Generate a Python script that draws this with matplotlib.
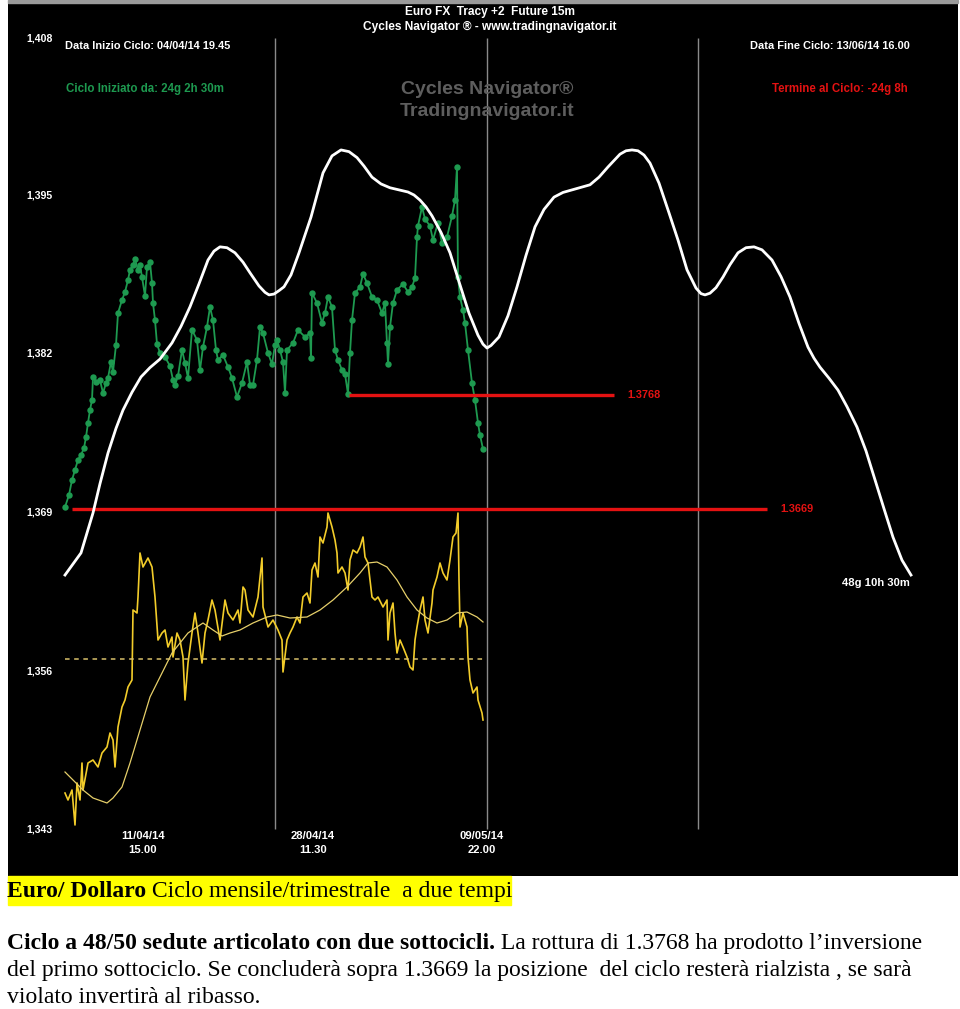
import matplotlib
matplotlib.use("Agg")
import matplotlib.pyplot as plt
from matplotlib.patches import Rectangle

# ── Data ───────────────────────────────────────────────────────────────────
# price series (green), x = bar position along the cycle panel
price_t = [65, 69, 72, 75, 78, 81, 84, 86, 88, 90, 92, 93, 96, 100, 103, 106,
           108, 111, 113, 116, 118, 122, 125, 128, 130, 133, 135, 138, 140,
           142, 145, 147, 150, 152, 153, 155, 157, 160, 165, 170, 173, 175,
           178, 182, 185, 188, 192, 197, 200, 203, 207, 210, 213, 216, 218,
           223, 228, 232, 237, 242, 247, 250, 253, 257, 260, 263, 268, 272,
           275, 277, 280, 283, 285, 287, 293, 298, 305, 310, 311, 312, 317,
           322, 325, 328, 332, 335, 338, 342, 345, 348, 350, 352, 355, 360,
           363, 367, 372, 377, 382, 385, 387, 388, 390, 393, 397, 403, 408,
           412, 415, 417, 418, 422, 425, 430, 433, 438, 442, 447, 452, 455,
           457, 458, 460, 463, 465, 468, 472, 475, 478, 480, 483]
price_v = [1.36707, 1.36812, 1.36942, 1.37029, 1.37116, 1.37159, 1.37220,
           1.37315, 1.37437, 1.37550, 1.37637, 1.37836, 1.37793, 1.37810,
           1.37697, 1.37784, 1.37828, 1.37967, 1.37880, 1.38114, 1.38392,
           1.38505, 1.38574, 1.38679, 1.38766, 1.38809, 1.38861, 1.38766,
           1.38809, 1.38705, 1.38540, 1.38792, 1.38835, 1.38653, 1.38479,
           1.38331, 1.38123, 1.38045, 1.38010, 1.37932, 1.37810, 1.37767,
           1.37845, 1.38071, 1.37958, 1.37828, 1.38245, 1.38158, 1.37897,
           1.38097, 1.38271, 1.38444, 1.38331, 1.38071, 1.37984, 1.38027,
           1.37923, 1.37828, 1.37663, 1.37784, 1.37967, 1.37767, 1.37767,
           1.37984, 1.38271, 1.38218, 1.38045, 1.37949, 1.38114, 1.38158,
           1.38071, 1.37967, 1.37697, 1.38071, 1.38132, 1.38245, 1.38184,
           1.38218, 1.37999, 1.38566, 1.38479, 1.38305, 1.38392, 1.38531,
           1.38444, 1.38071, 1.37984, 1.37897, 1.37862, 1.37689, 1.38045,
           1.38331, 1.38566, 1.38618, 1.38731, 1.38653, 1.38531, 1.38505,
           1.38392, 1.38479, 1.38132, 1.37949, 1.38271, 1.38479, 1.38592,
           1.38644, 1.38574, 1.38618, 1.38696, 1.39052, 1.39148, 1.39313,
           1.39208, 1.39148, 1.39026, 1.39174, 1.39000, 1.39052, 1.39234,
           1.39373, 1.39660, 1.38705, 1.38531, 1.38418, 1.38305, 1.38071,
           1.37784, 1.37637, 1.37437, 1.37333, 1.37211]

# oscillator (yellow) and its moving average
osc_t = [65, 68, 72, 75, 77, 80, 82, 83, 88, 93, 98, 102, 107, 110, 113, 115,
         118, 122, 125, 128, 132, 133, 137, 138, 140, 143, 148, 152, 155, 158,
         162, 165, 168, 172, 173, 177, 180, 183, 185, 188, 192, 195, 198, 202,
         205, 208, 212, 215, 220, 225, 228, 233, 238, 240, 243, 245, 248, 253,
         258, 262, 263, 268, 273, 278, 282, 283, 287, 290, 293, 297, 300, 303,
         307, 310, 312, 315, 318, 320, 323, 327, 328, 332, 335, 337, 338, 342,
         345, 348, 350, 353, 357, 360, 363, 365, 368, 370, 372, 375, 378, 383,
         387, 388, 390, 393, 395, 397, 400, 403, 407, 410, 413, 415, 417, 420,
         423, 425, 428, 432, 433, 437, 440, 443, 447, 450, 453, 456, 458, 459,
         460, 463, 467, 468, 470, 473, 477, 478, 482, 483]
osc_v = [-67, -70.5, -65.5, -83, -62, -70.5, -52, -65.5, -52, -50.5, -54, -47,
         -44, -37, -40.5, -54, -34, -24, -20.5, -14, -10.5, 24.5, 23, 31, 53,
         46, 50.5, 46, 31, 9.5, 13, 14.5, 6, 11, 1, 13, 9.5, 1, -20.5, -2, 13,
         23, 13, -2, 13, 19.5, 29.5, 24.5, 9.5, 29.5, 23, 19.5, 24.5, 18, 36,
         34.5, 24.5, 21, 31, 50.5, 26, 16, 19.5, 14.5, 9.5, -6.5, 9.5, 13, 16,
         21, 18, 31, 33, 28, 44.5, 48, 41, 61, 58, 66, 73, 66, 59.5, 53, 43, 46,
         43, 34.5, 49.5, 54.5, 53, 56, 61, 51, 48, 39.5, 31, 29.5, 31, 26,
         29.5, 9.5, 23, 28, 13, 3, 9.5, 6, 1, -4, -5.5, 9.5, 16, 24.5, 31,
         19.5, 13, 28, 34.5, 41, 48, 43, 39.5, 49.5, 61, 63, 73, 39.5, 16, 23,
         16, 1, -10.5, -17, -14, -20.5, -27, -30.5]
ma_t = [65, 73, 83, 93, 107, 113, 122, 130, 140, 150, 157, 165, 172, 180, 188,
        197, 203, 213, 222, 230, 240, 253, 267, 277, 290, 307, 320, 333, 347,
        360, 368, 377, 387, 397, 407, 417, 427, 437, 447, 457, 467, 477, 483]
ma_v = [-56.5, -60.5, -65.5, -69.5, -72, -69.5, -64, -52, -35.5, -19, -12, -4,
        3, 8, 13, 16, 18, 14.5, 11.5, 13, 14.5, 18, 21, 22, 20.5, 21, 24.5,
        29.5, 36, 43, 48, 48.5, 46, 39.5, 31, 24.5, 20.5, 18, 19.5, 23, 23.5,
        21, 18.5]
osc_mid = 0.0

# projected cycle (white), 0 = cycle low, 100 = highest top
cyc_t = [65, 81, 93, 100, 108, 116, 123, 132, 141, 150, 160, 172, 181, 190,
         199, 208, 214, 220, 227, 235, 243, 250, 259, 265, 269, 274, 279, 284,
         291, 299, 311, 323, 332, 341, 349, 357, 364, 372, 381, 390, 399, 408,
         414, 420, 426, 432, 441, 450, 459, 469, 478, 483, 487, 491, 495, 499,
         508, 517, 526, 535, 544, 554, 563, 572, 581, 590, 599, 608, 620, 626,
         632, 638, 644, 650, 659, 669, 678, 687, 696, 701, 705, 710, 716, 723,
         730, 738, 746, 754, 762, 772, 781, 790, 799, 808, 814, 820, 829, 838,
         847, 857, 866, 875, 884, 893, 902, 911]
cyc_v = [0, 5.2, 14.6, 21.5, 28.7, 34.5, 38.8, 43.0, 46.6, 48.8, 50.8, 54.6,
         58.5, 63.1, 68.5, 74.1, 76.2, 77.2, 77.0, 75.8, 73.6, 71.1, 68.0, 66.5,
         65.9, 66.1, 66.9, 67.8, 70.6, 75.8, 84.2, 94.6, 98.6, 100, 99.6, 98.2,
         96.2, 93.6, 92.0, 91.1, 90.6, 90.1, 89.4, 88.2, 86.6, 84.5, 80.6, 75.8,
         69.0, 61.6, 56.4, 54.3, 53.4, 54.0, 55.0, 56.0, 61.0, 67.8, 75.2, 81.9,
         86.0, 88.9, 90.0, 90.6, 91.2, 91.8, 93.6, 96.0, 99.0, 99.8, 100, 99.8,
         98.8, 96.9, 92.2, 85.2, 78.8, 71.8, 67.5, 66.2, 65.9, 66.3, 67.6, 70.1,
         73.0, 75.8, 77.0, 77.2, 76.5, 74.1, 70.2, 65.4, 59.2, 53.6, 51.0, 48.9,
         46.3, 43.5, 39.6, 34.8, 29.2, 22.4, 15.6, 8.9, 3.5, 0]

level_vals = [1.3768, 1.3669]
level_from = [349, 72]
level_to = [614, 767]
level_labels = ["1.3768", "1.3669"]

ytick_vals = [1.4078, 1.3941, 1.3804, 1.3666, 1.3528, 1.3391]
ytick_labels = ["1,408", "1,395", "1,382", "1,369", "1,356", "1,343"]

vline_t = [275, 487, 698]
date_t = [143, 313, 482]
date_labels = ["11/04/14\n15.00", "28/04/14\n11.30", "09/05/14\n22.00"]

# ── Figure / panel ─────────────────────────────────────────────────────────
W, H = 960, 1009
fig = plt.figure(figsize=(W / 100, H / 100), dpi=100)
fig.patch.set_facecolor("white")
plt.rcParams["font.family"] = ["Liberation Sans", "DejaVu Sans"]

PX0, PX1, PY0, PY1 = 8, 958, 2, 876        # black panel in pixels
rect = [PX0 / W, 1 - PY1 / H, (PX1 - PX0) / W, (PY1 - PY0) / H]

ax = fig.add_axes(rect)
ax.set_facecolor("black")
ax.set_xlim(PX0, PX1)
ax.set_ylim(1.335030, 1.410928)
ax.set_xticks([]); ax.set_yticks([])
for s in ax.spines.values():
    s.set_visible(False)

ax_osc = fig.add_axes(rect, sharex=ax)
ax_osc.set_ylim(-108.5, 328.5)
ax_osc.axis("off"); ax_osc.patch.set_alpha(0)

ax_cyc = fig.add_axes(rect, sharex=ax)
ax_cyc.set_ylim(-70.8, 134.8)
ax_cyc.axis("off"); ax_cyc.patch.set_alpha(0)


def fx(px):
    return px / W


def fy(py):
    return 1 - py / H


# thin grey strip along the very top
fig.patches.append(Rectangle((PX0 / W, 1 - 2.5 / H), (PX1 - PX0) / W, 2.5 / H,
                             transform=fig.transFigure, color="#9a9a9a",
                             zorder=0))

# vertical separators
for t in vline_t:
    ax.vlines(t, ytick_vals[-1], ytick_vals[0], color="#8a8a8a", lw=1,
              zorder=1)

# watermark
fig.text(fx(487), fy(89), "Cycles Navigator®", color="#5e5e5e",
         fontsize=14, fontweight="bold", ha="center", va="center")
fig.text(fx(487), fy(111), "Tradingnavigator.it", color="#5e5e5e",
         fontsize=14, fontweight="bold", ha="center", va="center")

# cycle projection
ax_cyc.plot(cyc_t, cyc_v, color="white", lw=2, zorder=3,
            solid_joinstyle="round")

# oscillator
ax_osc.plot(osc_t, osc_v, color="#f2cc2a", lw=1.2, zorder=2)
ax_osc.plot(ma_t, ma_v, color="#e6cf6a", lw=0.9, zorder=2)
ax_osc.hlines(osc_mid, osc_t[0], osc_t[-1], color="#d9c06a", lw=1.1,
              linestyles=(0, (3, 3)), zorder=2)

# price
ax.plot(price_t, price_v, color="#1e9a50", lw=1.3, marker="o", ms=4.6,
        mew=0, zorder=4)

# levels
for v, a, b, lab in zip(level_vals, level_from, level_to, level_labels):
    ax.hlines(v, a, b, color="#e41212", lw=2.4, zorder=5)
    ax.text(b + 13, v, lab, color="#e41212", fontsize=7.8, fontweight="bold",
            ha="left", va="center", zorder=5)

# price labels
for v, lab in zip(ytick_vals, ytick_labels):
    ax.text(26, v, lab, color="white", fontsize=7.6, fontweight="bold",
            ha="left", va="center")

# date labels
for t, lab in zip(date_t, date_labels):
    ax.text(t, 1.33790, lab, color="white", fontsize=8.1, fontweight="bold",
            ha="center", va="center", linespacing=1.45)

# header / info texts
fig.text(fx(490), fy(12), "Euro FX  Tracy +2  Future 15m", color="white",
         fontsize=8.6, fontweight="bold", ha="center", va="center")
fig.text(fx(490), fy(27), "Cycles Navigator ® - www.tradingnavigator.it",
         color="white", fontsize=8.6, fontweight="bold", ha="center",
         va="center")
fig.text(fx(65), fy(46), "Data Inizio Ciclo: 04/04/14 19.45", color="white",
         fontsize=7.9, fontweight="bold", ha="left", va="center")
fig.text(fx(66), fy(89), "Ciclo Iniziato da: 24g 2h 30m", color="#1e9a50",
         fontsize=8.3, fontweight="bold", ha="left", va="center")
fig.text(fx(910), fy(46), "Data Fine Ciclo: 13/06/14 16.00", color="white",
         fontsize=7.9, fontweight="bold", ha="right", va="center")
fig.text(fx(908), fy(89), "Termine al Ciclo: -24g 8h", color="#e41212",
         fontsize=8.3, fontweight="bold", ha="right", va="center")
fig.text(fx(910), fy(583), "48g 10h 30m", color="white", fontsize=8.1,
         fontweight="bold", ha="right", va="center")

# ── Comment text below the chart ───────────────────────────────────────────
serif = ["Liberation Serif", "DejaVu Serif"]
fig.patches.append(Rectangle((fx(8), fy(905)), fx(511) - fx(8),
                             fy(876) - fy(905), transform=fig.transFigure,
                             color="#ffff00", zorder=0))


def rich(x, y, parts, size):
    prev = None
    for txt, bold in parts:
        kw = dict(fontsize=size, family=serif, color="black",
                  fontweight="bold" if bold else "normal")
        if prev is None:
            prev = fig.text(x, y, txt, ha="left", va="baseline", **kw)
        else:
            prev = fig.add_artist(plt.Annotation(
                txt, xy=(1, 0), xycoords=prev, ha="left", va="bottom", **kw))


TS = 17.0
rich(fx(7), fy(897), [("Euro/ Dollaro", True),
                      (" Ciclo mensile/trimestrale  a due tempi", False)], TS)
rich(fx(7), fy(949), [("Ciclo a 48/50 sedute articolato con due sottocicli.",
                       True),
                      (" La rottura di 1.3768 ha prodotto l\u2019inversione",
                       False)], TS)
rich(fx(7), fy(976), [("del primo sottociclo. Se concluderà sopra 1.3669 la "
                       "posizione  del ciclo resterà rialzista , se sarà",
                       False)], TS)
rich(fx(7), fy(1003), [("violato invertirà al ribasso.", False)], TS)

fig.savefig("out.png", dpi=100, facecolor="white")
